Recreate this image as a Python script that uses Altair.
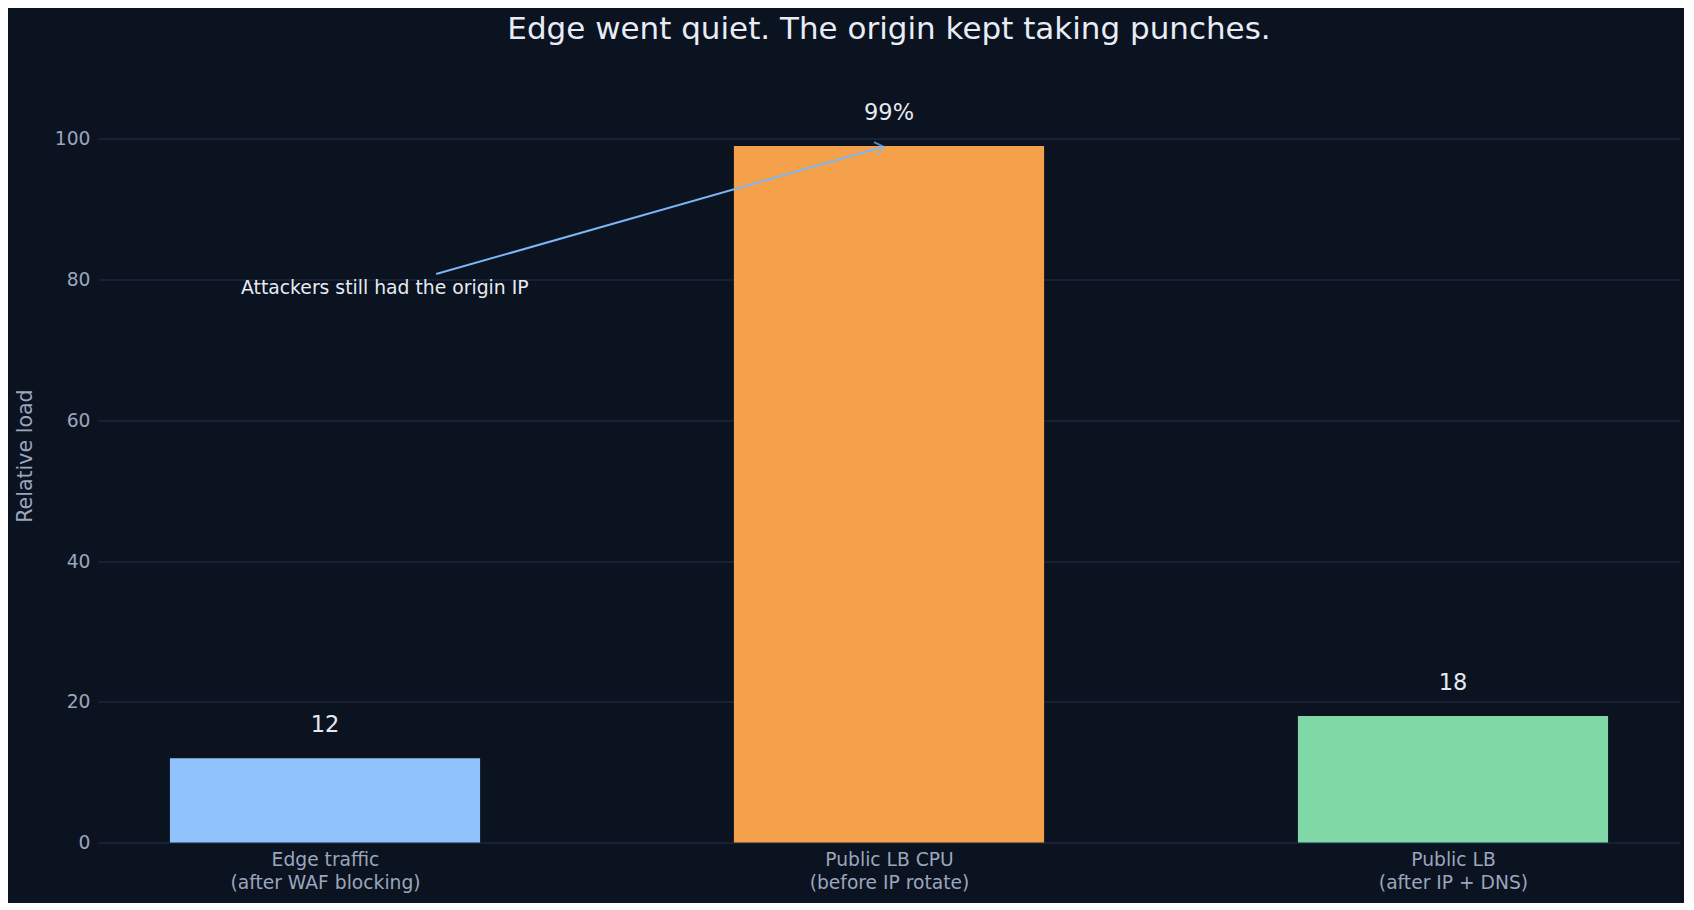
import json

import altair as alt
import pandas as pd

# data
categories = ["Edge traffic", "Public LB CPU", "Public LB"]
subtitles = ["(after WAF blocking)", "(before IP rotate)", "(after IP + DNS)"]
load_values = [12, 99, 18]
value_labels = ["12", "99%", "18"]
bar_colors = ["#90c3fc", "#f5a04b", "#80d8a6"]

# annotation (data coordinates)
note_text = "Attackers still had the origin IP"
note_xy = (0.106, 78)
arrow_from = (0.197, 80.8)
arrow_to = (0.99, 98.9)

BG = "#0b1220"
FONT = "DejaVu Sans"

df = pd.DataFrame(
    {
        "idx": list(range(len(categories))),
        "category": categories,
        "load": load_values,
        "label": value_labels,
    }
)

x_scale = alt.Scale(domain=[-0.4025, 2.4025], nice=False, zero=False)
y_scale = alt.Scale(domain=[0, 110], nice=False)

label_expr = json.dumps([[c, s] for c, s in zip(categories, subtitles)]) + "[datum.value]"

base = alt.Chart(df).transform_calculate(
    x0="datum.idx - 0.275", x1="datum.idx + 0.275", base="0"
)

bars = base.mark_bar().encode(
    x=alt.X(
        "x0:Q",
        scale=x_scale,
        title=None,
        axis=alt.Axis(
            values=[0, 1, 2],
            labelExpr=label_expr,
            grid=False,
            domain=False,
            ticks=False,
            labelPadding=8,
            labelBaseline="top",
            labelLineHeight=23,
            labelLimit=0,
        ),
    ),
    x2="x1:Q",
    y=alt.Y(
        "load:Q",
        scale=y_scale,
        title="Relative load",
        axis=alt.Axis(
            values=[0, 20, 40, 60, 80, 100],
            domain=False,
            ticks=False,
            labelPadding=8,
            titleX=-73,
            titleY=387,
            titleBaseline="middle",
        ),
    ),
    y2="base:Q",
    color=alt.Color(
        "category:N",
        scale=alt.Scale(domain=categories, range=bar_colors),
        legend=None,
    ),
)

values_text = (
    alt.Chart(df)
    .mark_text(font=FONT, fontSize=22.5, color="#e5e9f0", baseline="alphabetic", dy=-26)
    .encode(
        x=alt.X("idx:Q", scale=x_scale),
        y=alt.Y("load:Q", scale=y_scale),
        text="label:N",
    )
)

arrow_df = pd.DataFrame(
    {"xa": [arrow_from[0]], "ya": [arrow_from[1]], "xb": [arrow_to[0]], "yb": [arrow_to[1]]}
)
arrow_line = (
    alt.Chart(arrow_df)
    .mark_rule(color="#7cb7f5", strokeWidth=2)
    .encode(
        x=alt.X("xa:Q", scale=x_scale),
        y=alt.Y("ya:Q", scale=y_scale),
        x2="xb:Q",
        y2="yb:Q",
    )
)
arrow_head = (
    alt.Chart(arrow_df)
    .mark_point(
        shape="M -0.8 0.9 L 0 0 L 0.8 0.9",
        angle=74.2,
        size=300,
        filled=False,
        color="#7cb7f5",
        strokeWidth=2,
    )
    .encode(x=alt.X("xb:Q", scale=x_scale), y=alt.Y("yb:Q", scale=y_scale))
)

note_df = pd.DataFrame({"x": [note_xy[0]], "y": [note_xy[1]], "t": [note_text]})
note = (
    alt.Chart(note_df)
    .mark_text(font=FONT, fontSize=18.8, color="#e6ebf2", baseline="alphabetic")
    .encode(x=alt.X("x:Q", scale=x_scale), y=alt.Y("y:Q", scale=y_scale), text="t:N")
)

chart = (
    alt.layer(bars, values_text, arrow_line, arrow_head, note)
    .properties(
        width=1582,
        height=774,
        background=BG,
        autosize=alt.AutoSizeParams(type="none"),
        padding={"left": 90, "top": 60.6, "right": 4, "bottom": 60},
        title=alt.TitleParams(
            "Edge went quiet. The origin kept taking punches.",
            font=FONT,
            fontSize=31,
            fontWeight="normal",
            color="#e8edf5",
            anchor="middle",
            frame="group",
            offset=23,
        ),
    )
    .configure_view(stroke=None)
    .configure_axis(
        labelFont=FONT,
        labelFontSize=18.7,
        labelColor="#9aa6bd",
        titleFont=FONT,
        titleFontSize=20.6,
        titleFontWeight="normal",
        titleColor="#9aa6bd",
        gridColor="#1c263b",
        gridWidth=1.5,
    )
)

chart.save("out.html", embed_options={"renderer": "svg", "actions": False})
